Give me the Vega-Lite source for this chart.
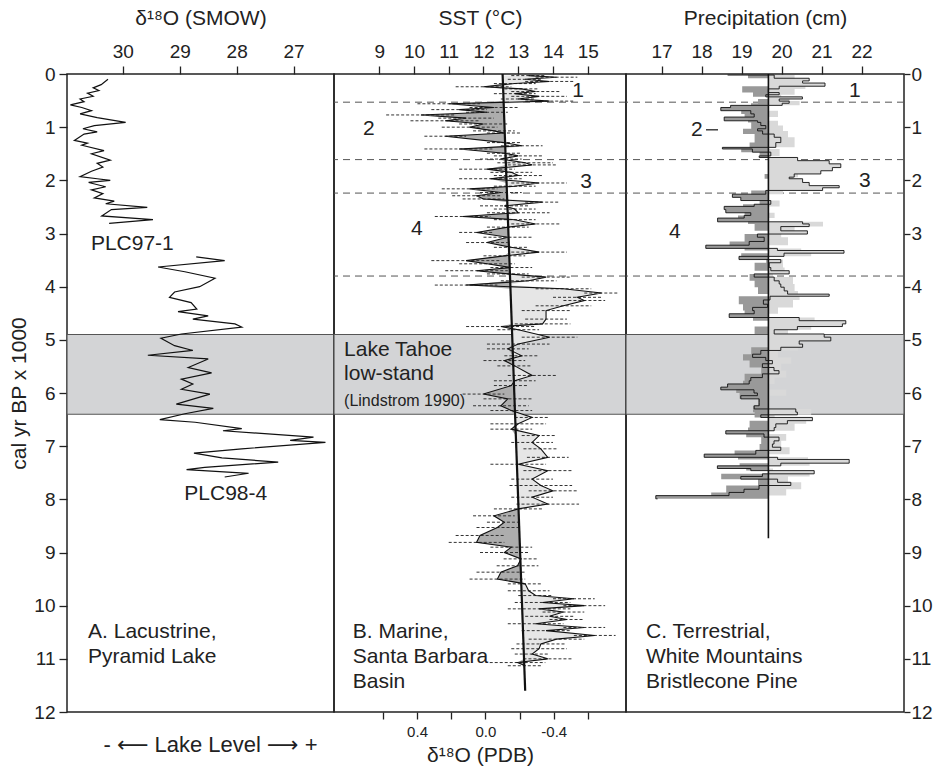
{
"$schema": "https://vega.github.io/schema/vega-lite/v6.json",
"background": "white",
"padding": {"left": 8, "top": 6, "right": 5, "bottom": 5},
"spacing": 0,
"bounds": "flush",
"config": {
  "font": "Liberation Sans, DejaVu Sans",
  "view": {"stroke": "#222", "strokeWidth": 1.5},
  "axis": {"grid": false, "domain": false, "tickColor": "#222", "tickSize": 8, "tickWidth": 1.3, "labelColor": "#222", "titleColor": "#222", "labelFontSize": 19, "titleFontSize": 21, "titleFontWeight": "normal", "labelFont": "Liberation Sans, DejaVu Sans", "titleFont": "Liberation Sans, DejaVu Sans"},
  "text": {"font": "Liberation Sans, DejaVu Sans", "color": "#222"}
},
"hconcat": [
{
  "width": 267, "height": 638,
  "resolve": {"axis": {"x": "independent"}},
  "layer": [
    {"data": {"values": [{"y0": 4.9, "y1": 6.4}]},
     "mark": {"type": "rect", "fill": "#d3d4d6", "stroke": "#555", "strokeWidth": 1.2},
     "encoding": {"y": {"field": "y0", "type": "quantitative", "scale": {"domain": [0, 12], "reverse": true, "nice": false, "zero": false}, "axis": {"orient": "left", "values": [0,1,2,3,4,5,6,7,8,9,10,11,12], "title": "cal yr BP x 1000", "labelPadding": 4, "titlePadding": 4}}, "y2": {"field": "y1"}}},
    {"data": {"values": [
      {"k":"PLC97-1","y":0.10,"d":30.26},{"k":"PLC97-1","y":0.20,"d":30.38},{"k":"PLC97-1","y":0.26,"d":30.52},{"k":"PLC97-1","y":0.31,"d":30.42},{"k":"PLC97-1","y":0.36,"d":30.62},{"k":"PLC97-1","y":0.42,"d":30.52},{"k":"PLC97-1","y":0.47,"d":30.75},{"k":"PLC97-1","y":0.52,"d":30.68},{"k":"PLC97-1","y":0.58,"d":30.92},{"k":"PLC97-1","y":0.63,"d":30.72},{"k":"PLC97-1","y":0.69,"d":30.55},{"k":"PLC97-1","y":0.75,"d":30.75},{"k":"PLC97-1","y":0.82,"d":30.45},{"k":"PLC97-1","y":0.91,"d":29.95},{"k":"PLC97-1","y":0.97,"d":30.5},{"k":"PLC97-1","y":1.03,"d":30.7},{"k":"PLC97-1","y":1.09,"d":30.45},{"k":"PLC97-1","y":1.13,"d":30.68},{"k":"PLC97-1","y":1.25,"d":30.85},{"k":"PLC97-1","y":1.30,"d":30.62},{"k":"PLC97-1","y":1.34,"d":30.72},{"k":"PLC97-1","y":1.44,"d":30.33},{"k":"PLC97-1","y":1.50,"d":30.55},{"k":"PLC97-1","y":1.62,"d":30.22},{"k":"PLC97-1","y":1.68,"d":30.45},{"k":"PLC97-1","y":1.75,"d":30.35},{"k":"PLC97-1","y":1.83,"d":30.55},{"k":"PLC97-1","y":1.93,"d":30.75},{"k":"PLC97-1","y":1.97,"d":30.45},{"k":"PLC97-1","y":2.00,"d":30.22},{"k":"PLC97-1","y":2.04,"d":30.6},{"k":"PLC97-1","y":2.12,"d":30.3},{"k":"PLC97-1","y":2.18,"d":30.55},{"k":"PLC97-1","y":2.25,"d":30.35},{"k":"PLC97-1","y":2.33,"d":30.5},{"k":"PLC97-1","y":2.39,"d":30.15},{"k":"PLC97-1","y":2.44,"d":30.3},{"k":"PLC97-1","y":2.51,"d":29.57},{"k":"PLC97-1","y":2.55,"d":30.2},{"k":"PLC97-1","y":2.67,"d":30.37},{"k":"PLC97-1","y":2.74,"d":29.47},{"k":"PLC97-1","y":2.81,"d":30.24},
      {"k":"PLC98-4","y":3.44,"d":28.71},{"k":"PLC98-4","y":3.51,"d":28.21},{"k":"PLC98-4","y":3.63,"d":29.38},{"k":"PLC98-4","y":3.72,"d":28.91},{"k":"PLC98-4","y":3.84,"d":28.38},{"k":"PLC98-4","y":4.0,"d":28.65},{"k":"PLC98-4","y":4.1,"d":29.09},{"k":"PLC98-4","y":4.2,"d":29.18},{"k":"PLC98-4","y":4.3,"d":28.8},{"k":"PLC98-4","y":4.42,"d":28.7},{"k":"PLC98-4","y":4.47,"d":29.03},{"k":"PLC98-4","y":4.55,"d":28.5},{"k":"PLC98-4","y":4.61,"d":28.77},{"k":"PLC98-4","y":4.7,"d":28.03},{"k":"PLC98-4","y":4.76,"d":27.91},{"k":"PLC98-4","y":4.89,"d":28.97},{"k":"PLC98-4","y":4.97,"d":29.33},{"k":"PLC98-4","y":5.11,"d":29.09},{"k":"PLC98-4","y":5.2,"d":28.77},{"k":"PLC98-4","y":5.29,"d":29.56},{"k":"PLC98-4","y":5.36,"d":28.5},{"k":"PLC98-4","y":5.52,"d":28.85},{"k":"PLC98-4","y":5.62,"d":28.44},{"k":"PLC98-4","y":5.74,"d":28.97},{"k":"PLC98-4","y":5.83,"d":28.77},{"k":"PLC98-4","y":5.93,"d":28.97},{"k":"PLC98-4","y":6.02,"d":28.47},{"k":"PLC98-4","y":6.21,"d":29.06},{"k":"PLC98-4","y":6.29,"d":28.41},{"k":"PLC98-4","y":6.39,"d":28.91},{"k":"PLC98-4","y":6.5,"d":29.35},{"k":"PLC98-4","y":6.55,"d":28.73},{"k":"PLC98-4","y":6.67,"d":27.91},{"k":"PLC98-4","y":6.71,"d":28.24},{"k":"PLC98-4","y":6.83,"d":26.65},{"k":"PLC98-4","y":6.89,"d":27.06},{"k":"PLC98-4","y":6.93,"d":26.44},{"k":"PLC98-4","y":7.05,"d":27.91},{"k":"PLC98-4","y":7.13,"d":28.75},{"k":"PLC98-4","y":7.22,"d":28.26},{"k":"PLC98-4","y":7.3,"d":27.27},{"k":"PLC98-4","y":7.4,"d":28.56},{"k":"PLC98-4","y":7.44,"d":28.88},{"k":"PLC98-4","y":7.51,"d":27.79},{"k":"PLC98-4","y":7.58,"d":28.21}
     ]},
     "mark": {"type": "line", "color": "#111", "strokeWidth": 1.2},
     "encoding": {"x": {"field": "d", "type": "quantitative", "scale": {"domain": [26.29, 30.98], "reverse": true, "nice": false, "zero": false}, "axis": {"orient": "top", "values": [27, 28, 29, 30], "title": "δ¹⁸O (SMOW)", "labelPadding": 5, "titlePadding": 14}},
                  "y": {"field": "y", "type": "quantitative"}, "detail": {"field": "k"}, "order": {"field": "y"}}},
    {"data": {"values": [{"x": 30.56, "y": 3.2, "label": "PLC97-1"}, {"x": 28.92, "y": 7.9, "label": "PLC98-4"}, {"x": 30.61, "y": 10.5, "label": "A. Lacustrine,"}, {"x": 30.61, "y": 10.97, "label": "Pyramid Lake"}]},
     "mark": {"type": "text", "align": "left", "baseline": "middle", "fontSize": 21},
     "encoding": {"x": {"field": "x", "type": "quantitative", "axis": {"orient": "bottom", "title": "-   ⟵   Lake Level  ⟶   +", "labels": false, "ticks": false, "titlePadding": 22, "titleX": 143, "titleFontSize": 22}},
                  "y": {"field": "y", "type": "quantitative"}, "text": {"field": "label"}}}
  ]
},
{
  "width": 292, "height": 638,
  "resolve": {"scale": {"x": "independent"}},
  "layer": [
    {"layer": [
      {"data": {"values": [{"y0": 4.9, "y1": 6.4}]},
       "mark": {"type": "rect", "fill": "#d3d4d6", "stroke": "#555", "strokeWidth": 1.2},
       "encoding": {"y": {"field": "y0", "type": "quantitative", "scale": {"domain": [0, 12], "reverse": true, "nice": false, "zero": false}, "axis": null}, "y2": {"field": "y1"}}},
      {"data": {"values": [{"y": 0.53}, {"y": 1.61}, {"y": 2.24}, {"y": 3.8}]},
       "mark": {"type": "rule", "stroke": "#555", "strokeWidth": 1, "strokeDash": [7, 5]},
       "encoding": {"y": {"field": "y", "type": "quantitative", "axis": null}}},
      {"data": {"name": "sst"},
       "transform": [{"fold": ["s", "t"]}, {"aggregate": [{"op": "min", "field": "value", "as": "lo"}, {"op": "max", "field": "value", "as": "hi"}], "groupby": ["y", "t"]}],
       "mark": {"type": "area", "orient": "horizontal", "fill": "#adadad"},
       "encoding": {"x": {"field": "lo", "type": "quantitative", "title": "SST (°C)", "scale": {"domain": [7.7, 16.1], "nice": false, "zero": false}, "axis": {"orient": "top", "values": [9, 10, 11, 12, 13, 14, 15], "title": "SST (°C)", "labelPadding": 5, "titlePadding": 14}},
                    "x2": {"field": "t"}, "y": {"field": "y", "type": "quantitative", "axis": null}}},
      {"data": {"name": "sst"},
       "transform": [{"fold": ["s", "t"]}, {"aggregate": [{"op": "min", "field": "value", "as": "lo"}, {"op": "max", "field": "value", "as": "hi"}], "groupby": ["y", "t"]}],
       "mark": {"type": "area", "orient": "horizontal", "fill": "#e6e6e6"},
       "encoding": {"x": {"field": "t", "type": "quantitative", "title": "SST (°C)"}, "x2": {"field": "hi"}, "y": {"field": "y", "type": "quantitative", "axis": null}}},
      {"data": {"name": "sst"},
       "mark": {"type": "errorbar", "color": "#333", "thickness": 1, "rule": {"strokeDash": [3, 2]}},
       "encoding": {"x": {"field": "s", "type": "quantitative", "title": "SST (°C)"}, "xError": {"field": "e"}, "y": {"field": "y", "type": "quantitative", "axis": null}}},
      {"data": {"name": "sst"},
       "mark": {"type": "line", "color": "#111", "strokeWidth": 1.1},
       "encoding": {"x": {"field": "s", "type": "quantitative", "title": "SST (°C)"}, "y": {"field": "y", "type": "quantitative", "axis": null}, "order": {"field": "y"}}},
      {"data": {"values": [{"y": 0, "t": 12.55}, {"y": 11.6, "t": 13.2}]},
       "mark": {"type": "line", "color": "#111", "strokeWidth": 2.2},
       "encoding": {"x": {"field": "t", "type": "quantitative", "title": "SST (°C)"}, "y": {"field": "y", "type": "quantitative", "axis": null}, "order": {"field": "y"}}},
      {"data": {"values": [{"x": 7.99, "y": 5.2, "label": "Lake Tahoe"}, {"x": 7.99, "y": 5.64, "label": "low-stand"}, {"x": 8.24, "y": 10.5, "label": "B. Marine,"}, {"x": 8.24, "y": 10.97, "label": "Santa Barbara"}, {"x": 8.24, "y": 11.43, "label": "Basin"}]},
       "mark": {"type": "text", "align": "left", "baseline": "middle", "fontSize": 21},
       "encoding": {"x": {"field": "x", "type": "quantitative", "title": "SST (°C)"}, "y": {"field": "y", "type": "quantitative", "axis": null}, "text": {"field": "label"}}},
      {"data": {"values": [{"x": 7.99, "y": 6.15, "label": "(Lindstrom 1990)"}]},
       "mark": {"type": "text", "align": "left", "baseline": "middle", "fontSize": 16},
       "encoding": {"x": {"field": "x", "type": "quantitative", "title": "SST (°C)"}, "y": {"field": "y", "type": "quantitative", "axis": null}, "text": {"field": "label"}}},
      {"data": {"values": [{"x": 14.72, "y": 0.32, "label": "1"}, {"x": 8.7, "y": 1.04, "label": "2"}, {"x": 14.95, "y": 2.03, "label": "3"}, {"x": 10.08, "y": 2.92, "label": "4"}]},
       "mark": {"type": "text", "align": "center", "baseline": "middle", "fontSize": 21},
       "encoding": {"x": {"field": "x", "type": "quantitative", "title": "SST (°C)"}, "y": {"field": "y", "type": "quantitative", "axis": null}, "text": {"field": "label"}}}
    ]},
    {"data": {"values": [{"p": 0.0}]},
     "mark": {"type": "point", "opacity": 0},
     "encoding": {"x": {"field": "p", "type": "quantitative", "scale": {"domain": [-0.823, 0.886], "reverse": true, "nice": false, "zero": false},
       "axis": {"orient": "bottom", "values": [0.6, 0.4, 0.2, 0, -0.2, -0.4, -0.6], "labelExpr": "abs(datum.value) < 0.001 ? '0.0' : (abs(abs(datum.value) - 0.4) < 0.001 ? (datum.value > 0 ? '0.4' : '-0.4') : '')", "labelFontSize": 15, "tickSize": 7, "labelPadding": 5, "title": "δ¹⁸O (PDB)", "titlePadding": 5}}}}
  ]
},
{
  "width": 278, "height": 638,
  "layer": [
    {"data": {"values": [{"y0": 4.9, "y1": 6.4}]},
     "mark": {"type": "rect", "fill": "#d3d4d6", "stroke": "#555", "strokeWidth": 1.2},
     "encoding": {"y": {"field": "y0", "type": "quantitative", "scale": {"domain": [0, 12], "reverse": true, "nice": false, "zero": false}, "axis": {"orient": "right", "values": [0,1,2,3,4,5,6,7,8,9,10,11,12], "title": null, "tickSize": 6, "labelPadding": 1}}, "y2": {"field": "y1"}}},
    {"data": {"values": [{"y": 0.53}, {"y": 1.61}, {"y": 2.24}, {"y": 3.8}]},
     "mark": {"type": "rule", "stroke": "#555", "strokeWidth": 1, "strokeDash": [7, 5]},
     "encoding": {"y": {"field": "y", "type": "quantitative"}}},
    {"data": {"name": "pr"},
     "transform": [{"fold": ["p", "c"]}, {"aggregate": [{"op": "min", "field": "value", "as": "lo"}, {"op": "max", "field": "value", "as": "hi"}], "groupby": ["y", "c"]}],
     "mark": {"type": "area", "orient": "horizontal", "interpolate": "step", "fill": "#999999"},
     "encoding": {"x": {"field": "lo", "type": "quantitative", "title": "Precipitation (cm)", "scale": {"domain": [16.11, 23.06], "nice": false, "zero": false}, "axis": {"orient": "top", "values": [17, 18, 19, 20, 21, 22], "title": "Precipitation (cm)", "labelPadding": 5, "titlePadding": 14}},
                  "x2": {"field": "c"}, "y": {"field": "y", "type": "quantitative"}}},
    {"data": {"name": "pr"},
     "transform": [{"fold": ["p", "c"]}, {"aggregate": [{"op": "min", "field": "value", "as": "lo"}, {"op": "max", "field": "value", "as": "hi"}], "groupby": ["y", "c"]}],
     "mark": {"type": "area", "orient": "horizontal", "interpolate": "step", "fill": "#d9d9d9"},
     "encoding": {"x": {"field": "c", "type": "quantitative", "title": "Precipitation (cm)"}, "x2": {"field": "hi"}, "y": {"field": "y", "type": "quantitative"}}},
    {"data": {"name": "pr"},
     "mark": {"type": "line", "interpolate": "step", "color": "#111", "strokeWidth": 0.9},
     "encoding": {"x": {"field": "p", "type": "quantitative", "title": "Precipitation (cm)"}, "y": {"field": "y", "type": "quantitative"}, "order": {"field": "y"}}},
    {"data": {"values": [{"x": 19.67, "y0": 0, "y1": 8.73}]},
     "mark": {"type": "rule", "color": "#111", "strokeWidth": 1.6},
     "encoding": {"x": {"field": "x", "type": "quantitative", "title": "Precipitation (cm)"}, "y": {"field": "y0", "type": "quantitative"}, "y2": {"field": "y1"}}},
    {"data": {"values": [{"x1": 18.11, "x2": 18.41, "y": 1.05}]},
     "mark": {"type": "rule", "color": "#111", "strokeWidth": 1.2},
     "encoding": {"x": {"field": "x1", "type": "quantitative", "title": "Precipitation (cm)"}, "x2": {"field": "x2"}, "y": {"field": "y", "type": "quantitative"}}},
    {"data": {"values": [{"x": 16.61, "y": 10.5, "label": "C. Terrestrial,"}, {"x": 16.61, "y": 10.97, "label": "White Mountains"}, {"x": 16.61, "y": 11.43, "label": "Bristlecone Pine"}]},
     "mark": {"type": "text", "align": "left", "baseline": "middle", "fontSize": 21},
     "encoding": {"x": {"field": "x", "type": "quantitative", "title": "Precipitation (cm)"}, "y": {"field": "y", "type": "quantitative"}, "text": {"field": "label"}}},
    {"data": {"values": [{"x": 21.83, "y": 0.32, "label": "1"}, {"x": 17.88, "y": 1.05, "label": "2"}, {"x": 22.08, "y": 2.02, "label": "3"}, {"x": 17.33, "y": 2.97, "label": "4"}]},
     "mark": {"type": "text", "align": "center", "baseline": "middle", "fontSize": 21},
     "encoding": {"x": {"field": "x", "type": "quantitative", "title": "Precipitation (cm)"}, "y": {"field": "y", "type": "quantitative"}, "text": {"field": "label"}}}
  ]
}
],
"datasets": {
  "sst": [
    {"y":0.03,"s":13.3,"t":12.55,"e":0.5},{"y":0.06,"s":14.1,"t":12.55,"e":0.6},{"y":0.10,"s":13.2,"t":12.56,"e":0.5},{"y":0.14,"s":13.9,"t":12.56,"e":0.7},{"y":0.18,"s":12.9,"t":12.56,"e":0.6},{"y":0.24,"s":12.0,"t":12.56,"e":0.8},{"y":0.28,"s":13.1,"t":12.57,"e":0.5},{"y":0.33,"s":13.5,"t":12.57,"e":0.7},{"y":0.37,"s":12.9,"t":12.57,"e":0.6},{"y":0.42,"s":13.6,"t":12.57,"e":0.8},{"y":0.47,"s":13.0,"t":12.58,"e":0.5},{"y":0.51,"s":13.9,"t":12.58,"e":0.7},
    {"y":0.56,"s":11.0,"t":12.58,"e":0.9},{"y":0.63,"s":12.3,"t":12.59,"e":0.7},{"y":0.67,"s":11.3,"t":12.59,"e":0.8},{"y":0.72,"s":12.1,"t":12.59,"e":0.6},{"y":0.77,"s":10.2,"t":12.59,"e":1.0},{"y":0.83,"s":11.5,"t":12.6,"e":0.8},{"y":0.88,"s":10.9,"t":12.6,"e":1.0},{"y":0.94,"s":12.0,"t":12.6,"e":0.7},{"y":1.00,"s":11.6,"t":12.61,"e":0.8},{"y":1.07,"s":12.3,"t":12.61,"e":0.6},{"y":1.11,"s":12.6,"t":12.61,"e":0.5},{"y":1.17,"s":10.9,"t":12.62,"e":0.6},{"y":1.29,"s":12.6,"t":12.62,"e":0.5},{"y":1.35,"s":13.1,"t":12.63,"e":0.6},{"y":1.41,"s":11.3,"t":12.63,"e":1.0},{"y":1.49,"s":12.6,"t":12.63,"e":0.5},{"y":1.54,"s":13.0,"t":12.64,"e":0.7},{"y":1.60,"s":12.5,"t":12.64,"e":0.6},
    {"y":1.67,"s":13.2,"t":12.64,"e":0.8},{"y":1.71,"s":13.4,"t":12.65,"e":0.7},{"y":1.79,"s":12.1,"t":12.65,"e":0.8},{"y":1.85,"s":12.8,"t":12.65,"e":0.6},{"y":1.91,"s":13.0,"t":12.66,"e":0.7},{"y":1.97,"s":12.2,"t":12.66,"e":0.9},{"y":2.05,"s":13.6,"t":12.66,"e":0.8},{"y":2.11,"s":12.9,"t":12.67,"e":0.6},{"y":2.16,"s":11.6,"t":12.67,"e":0.8},{"y":2.23,"s":12.5,"t":12.67,"e":0.6},
    {"y":2.29,"s":11.8,"t":12.68,"e":0.7},{"y":2.35,"s":12.0,"t":12.68,"e":0.6},{"y":2.41,"s":13.7,"t":12.68,"e":0.5},{"y":2.48,"s":12.6,"t":12.69,"e":0.7},{"y":2.54,"s":12.9,"t":12.69,"e":0.6},{"y":2.61,"s":13.0,"t":12.7,"e":0.9},{"y":2.68,"s":11.4,"t":12.7,"e":0.8},{"y":2.74,"s":12.9,"t":12.7,"e":0.6},{"y":2.82,"s":13.5,"t":12.71,"e":0.7},{"y":2.88,"s":12.7,"t":12.71,"e":0.6},{"y":2.98,"s":11.8,"t":12.72,"e":0.5},{"y":3.07,"s":12.7,"t":12.72,"e":0.7},{"y":3.17,"s":12.1,"t":12.73,"e":0.6},{"y":3.26,"s":12.8,"t":12.73,"e":0.5},{"y":3.35,"s":13.6,"t":12.74,"e":0.8},{"y":3.42,"s":12.6,"t":12.74,"e":0.6},{"y":3.51,"s":11.5,"t":12.75,"e":1.0},{"y":3.57,"s":12.1,"t":12.75,"e":0.8},{"y":3.64,"s":12.8,"t":12.75,"e":0.6},{"y":3.70,"s":11.8,"t":12.76,"e":0.9},{"y":3.76,"s":12.7,"t":12.76,"e":0.6},
    {"y":3.82,"s":13.8,"t":12.76,"e":0.7},{"y":3.89,"s":13.3,"t":12.77,"e":0.8},{"y":3.97,"s":11.5,"t":12.77,"e":0.9},{"y":4.04,"s":14.3,"t":12.78,"e":0.8},{"y":4.12,"s":15.4,"t":12.78,"e":0.5},{"y":4.20,"s":14.7,"t":12.79,"e":0.7},{"y":4.26,"s":14.9,"t":12.79,"e":0.6},{"y":4.36,"s":14.3,"t":12.79,"e":0.8},{"y":4.45,"s":13.8,"t":12.8,"e":0.7},{"y":4.61,"s":13.8,"t":12.81,"e":0.6},{"y":4.70,"s":13.7,"t":12.81,"e":0.8},{"y":4.75,"s":12.5,"t":12.82,"e":1.0},{"y":4.81,"s":13.0,"t":12.82,"e":0.6},{"y":4.95,"s":13.9,"t":12.83,"e":0.8},{"y":5.08,"s":13.0,"t":12.83,"e":0.9},{"y":5.17,"s":12.7,"t":12.84,"e":0.6},{"y":5.30,"s":13.1,"t":12.85,"e":0.5},{"y":5.39,"s":12.6,"t":12.85,"e":0.6},{"y":5.49,"s":12.9,"t":12.86,"e":0.5},{"y":5.67,"s":13.4,"t":12.87,"e":0.7},{"y":5.77,"s":12.9,"t":12.87,"e":0.6},{"y":5.86,"s":12.8,"t":12.88,"e":0.5},
    {"y":6.02,"s":12.0,"t":12.89,"e":0.6},{"y":6.11,"s":12.7,"t":12.89,"e":0.7},{"y":6.24,"s":12.5,"t":12.9,"e":0.8},{"y":6.33,"s":12.8,"t":12.9,"e":0.6},{"y":6.46,"s":13.4,"t":12.91,"e":0.5},{"y":6.58,"s":13.0,"t":12.92,"e":0.8},{"y":6.68,"s":12.8,"t":12.92,"e":0.6},{"y":6.80,"s":13.6,"t":12.93,"e":0.5},{"y":6.93,"s":13.4,"t":12.94,"e":0.6},{"y":7.05,"s":13.65,"t":12.94,"e":0.5},{"y":7.21,"s":13.85,"t":12.95,"e":0.6},{"y":7.34,"s":13.0,"t":12.96,"e":0.8},{"y":7.46,"s":13.85,"t":12.97,"e":0.7},{"y":7.62,"s":13.4,"t":12.98,"e":0.6},{"y":7.74,"s":13.65,"t":12.98,"e":0.9},{"y":7.84,"s":14.0,"t":12.99,"e":0.7},{"y":7.96,"s":13.4,"t":13.0,"e":0.6},{"y":8.09,"s":13.85,"t":13.0,"e":0.9},{"y":8.18,"s":13.0,"t":13.01,"e":0.7},
    {"y":8.31,"s":12.3,"t":13.02,"e":0.6},{"y":8.43,"s":12.6,"t":13.02,"e":0.5},{"y":8.53,"s":12.4,"t":13.03,"e":0.6},{"y":8.68,"s":11.9,"t":13.04,"e":0.7},{"y":8.81,"s":11.8,"t":13.04,"e":0.8},{"y":8.90,"s":12.8,"t":13.05,"e":0.6},{"y":9.00,"s":12.6,"t":13.05,"e":0.7},{"y":9.12,"s":13.08,"t":13.06,"e":0.5},{"y":9.25,"s":12.98,"t":13.07,"e":0.6},{"y":9.37,"s":12.5,"t":13.07,"e":0.7},{"y":9.50,"s":12.4,"t":13.08,"e":0.8},{"y":9.59,"s":13.2,"t":13.09,"e":0.5},{"y":9.72,"s":13.3,"t":13.09,"e":0.6},{"y":9.81,"s":13.5,"t":13.1,"e":0.5},{"y":9.87,"s":14.6,"t":13.1,"e":0.6},{"y":9.94,"s":13.7,"t":13.11,"e":0.8},{"y":10.00,"s":14.9,"t":13.11,"e":0.6},{"y":10.06,"s":13.6,"t":13.11,"e":0.9},{"y":10.12,"s":14.3,"t":13.12,"e":0.6},{"y":10.20,"s":13.9,"t":13.12,"e":0.7},{"y":10.26,"s":14.4,"t":13.12,"e":0.5},{"y":10.34,"s":13.5,"t":13.13,"e":0.8},{"y":10.41,"s":14.9,"t":13.13,"e":0.6},{"y":10.47,"s":13.8,"t":13.14,"e":0.7},{"y":10.56,"s":15.2,"t":13.14,"e":0.6},{"y":10.63,"s":14.1,"t":13.15,"e":0.8},{"y":10.72,"s":13.65,"t":13.15,"e":0.7},{"y":10.81,"s":13.6,"t":13.16,"e":0.8},{"y":10.91,"s":13.4,"t":13.16,"e":0.5},{"y":11.00,"s":13.85,"t":13.17,"e":0.7},{"y":11.07,"s":12.98,"t":13.17,"e":0.8},{"y":11.13,"s":13.2,"t":13.17,"e":0.5}
  ],
  "pr": [
    {"y":0.02,"p":18.65,"c":19.67},{"y":0.08,"p":20.98,"c":19.67},{"y":0.13,"p":20.4,"c":19.67},{"y":0.17,"p":20.65,"c":19.67},{"y":0.23,"p":21.52,"c":19.67},{"y":0.28,"p":18.36,"c":19.67},{"y":0.35,"p":20.98,"c":19.67},{"y":0.39,"p":18.9,"c":19.67},{"y":0.43,"p":20.31,"c":19.67},{"y":0.47,"p":20.73,"c":19.67},{"y":0.51,"p":19.15,"c":19.67},{"y":0.55,"p":21.23,"c":19.67},
    {"y":0.59,"p":18.8,"c":19.67},{"y":0.63,"p":18.65,"c":19.67},{"y":0.69,"p":18.31,"c":19.67},{"y":0.75,"p":20.15,"c":19.67},{"y":0.81,"p":18.48,"c":19.67},{"y":0.88,"p":18.65,"c":19.67},{"y":0.91,"p":20.15,"c":19.67},{"y":0.97,"p":18.81,"c":19.67},{"y":1.03,"p":20.4,"c":19.67},{"y":1.07,"p":18.4,"c":19.67},{"y":1.13,"p":20.65,"c":19.67},{"y":1.19,"p":18.98,"c":19.67},{"y":1.29,"p":20.98,"c":19.67},{"y":1.38,"p":18.73,"c":19.67},{"y":1.41,"p":18.31,"c":19.67},{"y":1.47,"p":20.23,"c":19.67},{"y":1.54,"p":19.23,"c":19.67},{"y":1.57,"p":19.65,"c":19.67},
    {"y":1.63,"p":21.15,"c":19.67},{"y":1.69,"p":21.23,"c":19.67},{"y":1.76,"p":21.73,"c":19.67},{"y":1.82,"p":20.81,"c":19.67},{"y":1.88,"p":21.15,"c":19.67},{"y":1.94,"p":19.48,"c":19.67},{"y":1.97,"p":20.9,"c":19.67},{"y":2.04,"p":20.15,"c":19.67},{"y":2.10,"p":21.23,"c":19.67},{"y":2.14,"p":21.65,"c":19.67},{"y":2.19,"p":20.4,"c":19.67},
    {"y":2.26,"p":18.81,"c":19.67},{"y":2.32,"p":18.73,"c":19.67},{"y":2.38,"p":19.23,"c":19.67},{"y":2.45,"p":20.23,"c":19.67},{"y":2.49,"p":18.4,"c":19.67},{"y":2.55,"p":18.73,"c":19.67},{"y":2.61,"p":18.48,"c":19.67},{"y":2.66,"p":19.98,"c":19.67},{"y":2.71,"p":18.15,"c":19.67},{"y":2.78,"p":18.65,"c":19.67},{"y":2.82,"p":22.4,"c":19.67},{"y":2.87,"p":18.98,"c":19.67},{"y":2.95,"p":20.98,"c":19.67},{"y":3.01,"p":20.31,"c":19.67},{"y":3.07,"p":18.48,"c":19.67},{"y":3.15,"p":20.65,"c":19.67},{"y":3.22,"p":17.73,"c":19.67},{"y":3.28,"p":18.48,"c":19.67},{"y":3.32,"p":21.31,"c":19.67},{"y":3.37,"p":21.81,"c":19.67},{"y":3.43,"p":18.31,"c":19.67},{"y":3.49,"p":19.56,"c":19.67},{"y":3.55,"p":20.4,"c":19.67},{"y":3.64,"p":18.98,"c":19.67},{"y":3.70,"p":20.48,"c":19.67},{"y":3.76,"p":19.9,"c":19.67},
    {"y":3.82,"p":18.73,"c":19.67},{"y":3.89,"p":20.9,"c":19.67},{"y":3.95,"p":18.98,"c":19.67},{"y":4.01,"p":20.98,"c":19.67},{"y":4.08,"p":19.15,"c":19.67},{"y":4.14,"p":21.15,"c":19.67},{"y":4.18,"p":21.23,"c":19.67},{"y":4.25,"p":18.19,"c":19.67},{"y":4.33,"p":20.9,"c":19.67},{"y":4.39,"p":18.4,"c":19.67},{"y":4.45,"p":20.15,"c":19.67},{"y":4.51,"p":18.48,"c":19.67},{"y":4.58,"p":18.9,"c":19.67},{"y":4.64,"p":21.98,"c":19.67},{"y":4.70,"p":21.23,"c":19.67},{"y":4.75,"p":21.81,"c":19.67},{"y":4.81,"p":18.98,"c":19.67},{"y":4.89,"p":20.65,"c":19.67},{"y":4.95,"p":21.48,"c":19.67},{"y":5.02,"p":20.98,"c":19.67},{"y":5.08,"p":19.9,"c":19.67},{"y":5.14,"p":21.15,"c":19.67},{"y":5.20,"p":18.81,"c":19.67},{"y":5.27,"p":20.15,"c":19.67},{"y":5.33,"p":18.4,"c":19.67},{"y":5.39,"p":20.81,"c":19.67},{"y":5.45,"p":18.73,"c":19.67},{"y":5.52,"p":20.31,"c":19.67},{"y":5.58,"p":19.31,"c":19.67},{"y":5.64,"p":20.56,"c":19.67},{"y":5.71,"p":18.48,"c":19.67},{"y":5.77,"p":19.98,"c":19.67},{"y":5.83,"p":18.4,"c":19.67},
    {"y":5.89,"p":18.9,"c":19.67},{"y":5.94,"p":18.06,"c":19.67},{"y":6.00,"p":20.56,"c":19.67},{"y":6.05,"p":18.23,"c":19.67},{"y":6.11,"p":19.73,"c":19.67},{"y":6.18,"p":19.15,"c":19.67},{"y":6.24,"p":19.73,"c":19.67},{"y":6.30,"p":18.9,"c":19.67},{"y":6.36,"p":21.81,"c":19.67},{"y":6.41,"p":18.98,"c":19.67},{"y":6.46,"p":19.98,"c":19.67},{"y":6.52,"p":21.56,"c":19.67},{"y":6.58,"p":18.73,"c":19.67},{"y":6.65,"p":20.98,"c":19.67},{"y":6.71,"p":18.65,"c":19.67},{"y":6.77,"p":18.56,"c":19.67},{"y":6.83,"p":20.56,"c":19.67},{"y":6.90,"p":19.31,"c":19.67},{"y":6.96,"p":20.31,"c":19.67},{"y":7.02,"p":19.23,"c":19.67},{"y":7.08,"p":20.73,"c":19.67},{"y":7.15,"p":17.98,"c":19.67},{"y":7.21,"p":18.15,"c":19.67},{"y":7.25,"p":21.65,"c":19.67},{"y":7.32,"p":21.73,"c":19.67},{"y":7.37,"p":18.23,"c":19.67},{"y":7.42,"p":18.56,"c":19.67},{"y":7.46,"p":19.9,"c":19.67},{"y":7.52,"p":21.73,"c":19.67},{"y":7.57,"p":17.31,"c":19.67},{"y":7.62,"p":20.65,"c":19.67},{"y":7.68,"p":19.15,"c":19.67},{"y":7.74,"p":21.31,"c":19.67},{"y":7.81,"p":17.56,"c":19.67},{"y":7.87,"p":20.56,"c":19.67},{"y":7.93,"p":16.81,"c":19.67},{"y":7.99,"p":16.9,"c":19.67}
  ]
}
}
